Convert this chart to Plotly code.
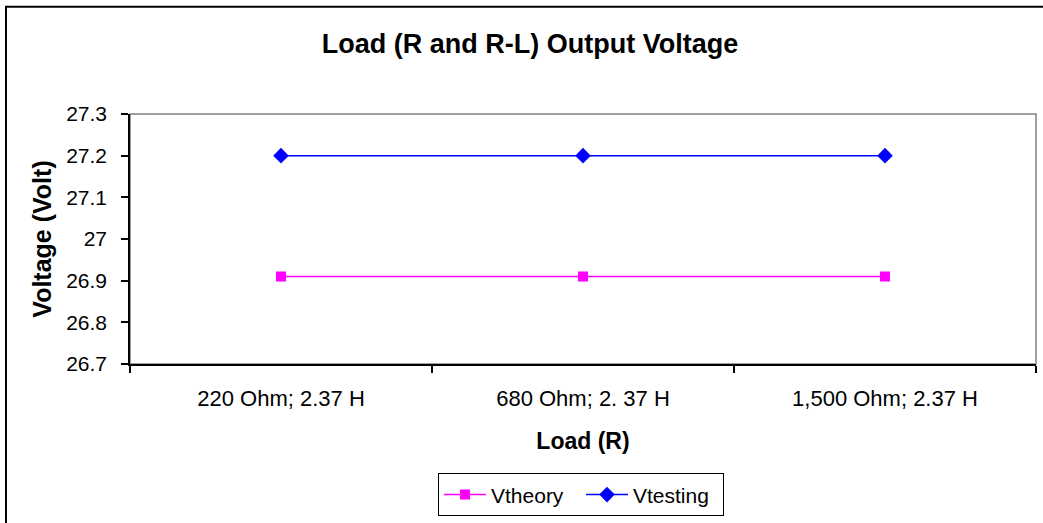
import plotly.graph_objects as go

categories = ["220 Ohm; 2.37 H", "680 Ohm; 2. 37 H", "1,500 Ohm; 2.37 H"]
vtheory = [26.91, 26.91, 26.91]
vtesting = [27.2, 27.2, 27.2]
y_tickvals = [26.7, 26.8, 26.9, 27.0, 27.1, 27.2, 27.3]
y_ticktext = ["26.7", "26.8", "26.9", "27", "27.1", "27.2", "27.3"]

W, H = 1043, 523
L, R, T, B = 130, 7, 114, 157
pw, ph = W - L - R, H - T - B

def px_x(x):
    return (x - L) / pw

def px_y(y):
    return (H - B - y) / ph

FONT = "Liberation Sans, Arial, sans-serif"

fig = go.Figure()
fig.add_trace(go.Scatter(
    x=categories, y=vtheory, name="Vtheory", mode="lines+markers",
    line=dict(color="#FF00FF", width=1.5),
    marker=dict(symbol="square", size=10, color="#FF00FF"),
))
fig.add_trace(go.Scatter(
    x=categories, y=vtesting, name="Vtesting", mode="lines+markers",
    line=dict(color="#0000FF", width=1.5),
    marker=dict(symbol="diamond", size=12, color="#0000FF"),
))

fig.update_layout(
    width=W, height=H,
    margin=dict(l=L, r=R, t=T, b=B),
    paper_bgcolor="white", plot_bgcolor="white",
    font=dict(family=FONT, color="black", size=21),
    title=dict(text="<b>Load (R and R-L) Output Voltage</b>",
               x=530 / W, xanchor="center", y=1 - 44 / H, yanchor="middle",
               font=dict(size=27, family=FONT, color="black")),
    showlegend=True,
    legend=dict(orientation="h", x=px_x(581), xanchor="center",
                y=px_y(498), yanchor="middle",
                bordercolor="black", borderwidth=1, bgcolor="white",
                font=dict(size=21, family=FONT), itemwidth=42,
                entrywidth=85, entrywidthmode="pixels",
                traceorder="normal"),
    shapes=[
        dict(type="rect", xref="paper", yref="paper", x0=0, x1=1, y0=0, y1=1,
             line=dict(color="#808080", width=1.5), layer="below"),
        dict(type="rect", xref="paper", yref="paper",
             x0=px_x(6), x1=px_x(1060), y0=px_y(540), y1=px_y(6),
             line=dict(color="black", width=2), layer="below"),
    ],
)

fig.update_xaxes(
    type="category", range=[-0.5, 2.5], tickson="boundaries",
    showline=True, linecolor="black", linewidth=1.5,
    ticks="outside", ticklen=7, tickcolor="black", tickwidth=1.5,
    showgrid=False, zeroline=False, ticklabelstandoff=14,
    tickfont=dict(size=22, family=FONT),
    title=dict(text="<b>Load (R)</b>", font=dict(size=23, family=FONT), standoff=23),
)
fig.update_yaxes(
    range=[26.7, 27.3], tickvals=y_tickvals, ticktext=y_ticktext,
    showline=True, linecolor="black", linewidth=1.5,
    ticks="outside", ticklen=7, tickcolor="black", tickwidth=1.5,
    showgrid=False, zeroline=False, ticklabelstandoff=10,
    tickfont=dict(size=21, family=FONT),
    title=dict(text="<b>Voltage (Volt)</b>", font=dict(size=25, family=FONT), standoff=7),
)

fig.write_html("out.html", config={"displayModeBar": False},
               post_script="document.body.style.margin='0';document.body.style.padding='0';")
